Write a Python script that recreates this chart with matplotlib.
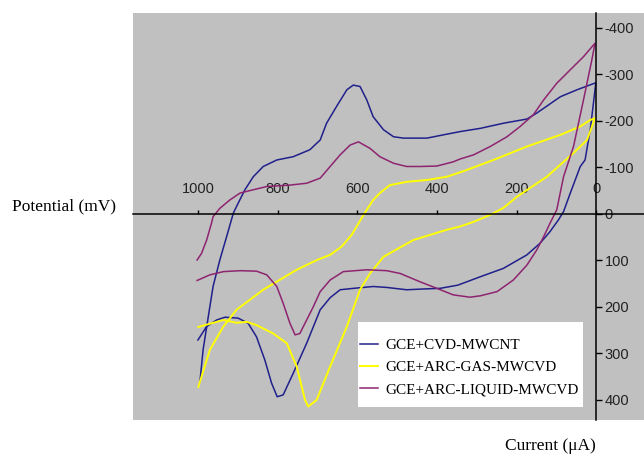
import matplotlib.pyplot as plt
from matplotlib.patches import Rectangle

plt.rcParams["axes.unicode_minus"] = False

#datos (potencial en x, corriente en y)
cvd_x = [1000, 978, 953, 932, 899, 874, 853, 832, 815, 801, 786, 761, 727, 693, 668, 643, 610, 560, 526, 476,
         425, 392, 347, 291, 233, 174, 141, 116, 95, 82, 65, 40, 28, 15, 7, 1,
         48, 90, 149, 174, 233, 291, 342, 384, 425, 484, 509, 534, 560, 576, 593, 610, 626, 652, 677, 693,
         719, 761, 802, 836, 861, 882, 899, 911, 928, 945, 962, 974, 987, 995]
cvd_y = [271, 242, 228, 222, 224, 235, 264, 314, 364, 393, 389, 343, 278, 206, 180, 163, 160, 156, 158, 163,
         161, 160, 153, 135, 117, 88, 63, 38, 13, -5, -45, -102, -116, -181, -238, -282,
         -267, -252, -217, -204, -195, -184, -177, -170, -163, -163, -166, -181, -209, -245, -274, -277, -267, -231, -195, -159,
         -138, -123, -116, -102, -80, -52, -23, -2, 49, 99, 156, 221, 292, 361]

gas_x = [999, 970, 936, 903, 836, 752, 701, 668, 639, 614, 589, 576, 560, 543, 518, 476, 425, 375, 333, 258,
         174, 90, 40, 15, 3,
         23, 57, 124, 199, 233, 266, 308, 342, 375, 459, 534, 568, 593, 626, 668, 702, 723, 731, 752, 777,
         811, 853, 877, 903, 936, 999]
gas_y = [372, 292, 242, 206, 163, 120, 99, 88, 70, 45, 9, -9, -30, -45, -62, -69, -73, -80, -92, -116,
         -145, -170, -188, -202, -206,
         -159, -131, -80, -37, -13, 2, 17, 27, 34, 56, 92, 128, 163, 242, 328, 400, 414, 400, 328, 278,
         257, 239, 232, 234, 228, 243]

liq_x = [1002, 970, 936, 894, 853, 827, 802, 786, 769, 756, 744, 727, 710, 693, 668, 635, 576, 526, 492, 442,
         400, 359, 317, 291, 249, 208, 174, 149, 132, 116, 99, 82, 57, 32, 11, 3,
         32, 65, 99, 132, 158, 191, 224, 266, 308, 342, 359, 400, 442, 476, 509, 543, 568, 597, 618, 643,
         668, 693, 727, 769, 827, 861, 894, 920, 945, 962, 966, 978, 991, 1002]
liq_y = [143, 131, 124, 122, 123, 131, 156, 192, 235, 260, 257, 228, 199, 167, 142, 124, 120, 122, 128, 146,
         160, 174, 179, 176, 167, 142, 110, 77, 49, 20, -9, -80, -145, -245, -331, -367,
         -338, -310, -281, -245, -213, -188, -166, -145, -127, -118, -112, -103, -102, -102, -109, -123, -141, -155, -148, -127,
         -102, -77, -66, -62, -59, -52, -45, -30, -12, 6, 20, 56, 85, 99]

nombres = ["GCE+CVD-MWCNT", "GCE+ARC-GAS-MWCVD", "GCE+ARC-LIQUID-MWCVD"]
xticks = [1000, 800, 600, 400, 200, 0]
yticks = [-400, -300, -200, -100, 0, 100, 200, 300, 400]

fig = plt.figure(figsize=(6.44, 4.62), dpi=100)
ax = fig.add_axes([133/644, 42/462, 511/644, 407/462])
ax.set_facecolor("#c0c0c0")

ax.plot(cvd_x, cvd_y, color="#20208c", lw=1.1, label=nombres[0])
ax.plot(gas_x, gas_y, color="#ffff00", lw=1.4, label=nombres[1])
ax.plot(liq_x, liq_y, color="#8e2470", lw=1.1, label=nombres[2])

ax.set_xlim(1163, -120)
ax.set_ylim(443, -432)

#ejes cruzando en el origen
ax.spines["left"].set_visible(False)
ax.spines["bottom"].set_visible(False)
ax.spines["top"].set_position(("data", 0))
ax.spines["right"].set_position(("data", 0))
ax.spines["top"].set_linewidth(1.1)
ax.spines["right"].set_linewidth(1.1)
ax.xaxis.set_ticks_position("top")
ax.yaxis.set_ticks_position("right")
ax.set_xticks(xticks)
ax.set_yticks(yticks)
ax.tick_params(axis="x", direction="out", length=3, width=1, pad=10,
               labelsize=10.5, labelcolor="#222222")
ax.tick_params(axis="y", direction="out", length=4, width=1, pad=2,
               labelsize=10.5, labelcolor="#222222")
for t in ax.get_xticklabels() + ax.get_yticklabels():
    t.set_fontfamily("Liberation Sans")

#caja blanca de la leyenda
caja = Rectangle((0.4403, 0.032), 0.4403, 0.209, transform=ax.transAxes,
                 facecolor="white", edgecolor="none", zorder=4)
ax.add_patch(caja)
leg = ax.legend(loc="center left", bbox_to_anchor=(0.444, 0.129), borderaxespad=0,
                prop={"family": "Liberation Serif", "size": 11}, handlelength=1.2,
                handletextpad=0.5, labelspacing=0.55, borderpad=0, frameon=False)
leg.set_zorder(5)

fig.text(12/644, 1 - 206/462, "Potential (mV)", family="Liberation Serif",
         fontsize=12.5, ha="left", va="center")
fig.text(505/644, 1 - 446/462, "Current (\u03bcA)", family="Liberation Serif",
         fontsize=12.5, ha="left", va="center")

plt.savefig("out.png", dpi=100)
